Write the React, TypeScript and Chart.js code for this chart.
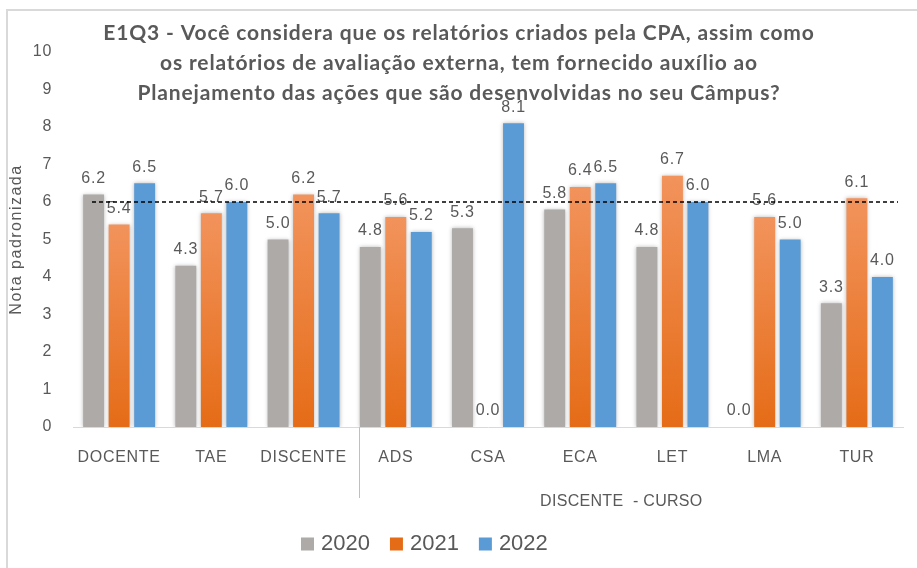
import React, { useEffect, useRef } from "react";
import { Chart, registerables } from "chart.js";

Chart.register(...registerables);

const categories = ["DOCENTE", "TAE", "DISCENTE", "ADS", "CSA", "ECA", "LET", "LMA", "TUR"];
const seriesNames = ["2020", "2021", "2022"];
const values2020 = [6.2, 4.3, 5.0, 4.8, 5.3, 5.8, 4.8, 0.0, 3.3];
const values2021 = [5.4, 5.7, 6.2, 5.6, 0.0, 6.4, 6.7, 5.6, 6.1];
const values2022 = [6.5, 6.0, 5.7, 5.2, 8.1, 6.5, 6.0, 5.0, 4.0];
const yTicks = [0, 1, 2, 3, 4, 5, 6, 7, 8, 9, 10];
const referenceValue = 6;
const titleLines = [
  "E1Q3 - Você considera que os relatórios criados pela CPA, assim como",
  "os relatórios de avaliação externa, tem fornecido auxílio ao",
  "Planejamento das ações que são desenvolvidas no seu Câmpus?",
];
const yAxisTitle = "Nota padronizada";
const groupLabel = "DISCENTE  - CURSO";

const GRAY = "#ADAAA8";
const ORANGE_TOP = "#F2935C";
const ORANGE_BOTTOM = "#E56C17";
const BLUE = "#5B9BD5";
const TEXT = "#595959";
const FONT = "'Liberation Sans', Arial, sans-serif";
const TITLE_FONT = "Lato, 'Liberation Sans', sans-serif";

const orangeFill = (c: any) => {
  const chart = c.chart;
  const area = chart.chartArea;
  if (!area || typeof c.raw !== "number") return ORANGE_BOTTOM;
  const y = chart.scales.y;
  const top = y.getPixelForValue(c.raw);
  const bottom = y.getPixelForValue(0);
  if (bottom - top < 1) return ORANGE_BOTTOM;
  const g = chart.ctx.createLinearGradient(0, top, 0, bottom);
  g.addColorStop(0, ORANGE_TOP);
  g.addColorStop(1, ORANGE_BOTTOM);
  return g;
};

const setSpacing = (ctx: any, px: number) => {
  if ("letterSpacing" in ctx) ctx.letterSpacing = `${px}px`;
};

const decorPlugin = {
  id: "decor",
  beforeDraw(chart: any) {
    const ctx = chart.ctx;
    setSpacing(ctx, 0.7);
    ctx.save();
    ctx.strokeStyle = "#D9D9D9";
    ctx.lineWidth = 2;
    ctx.strokeRect(7, 10, 2000, 2000);
    ctx.restore();
  },
  beforeDatasetsDraw(chart: any) {
    const ctx = chart.ctx;
    ctx.save();
    ctx.shadowColor = "rgba(0,0,0,0.28)";
    ctx.shadowBlur = 4;
    ctx.shadowOffsetX = 0;
    ctx.shadowOffsetY = 0;
  },
  afterDatasetsDraw(chart: any) {
    const ctx = chart.ctx;
    ctx.restore();
    const area = chart.chartArea;
    const ys = chart.scales.y;
    ctx.save();
    // value labels
    setSpacing(ctx, 0.8);
    ctx.font = `16px ${FONT}`;
    ctx.fillStyle = TEXT;
    ctx.textAlign = "center";
    ctx.textBaseline = "middle";
    chart.data.datasets.forEach((ds: any, di: number) => {
      const meta = chart.getDatasetMeta(di);
      meta.data.forEach((bar: any, i: number) => {
        const v = ds.data[i];
        if (typeof v !== "number") return;
        ctx.fillText(v.toFixed(1), bar.x, bar.y - 16);
      });
    });
    // reference dashed line
    const yRef = ys.getPixelForValue(referenceValue);
    ctx.strokeStyle = "#000000";
    ctx.lineWidth = 1.3;
    ctx.setLineDash([4, 3]);
    ctx.beginPath();
    ctx.moveTo(area.left + 19, yRef);
    ctx.lineTo(area.right - 5, yRef);
    ctx.stroke();
    ctx.setLineDash([]);
    // title
    setSpacing(ctx, 0.85);
    ctx.fillStyle = TEXT;
    ctx.font = `bold 21px ${TITLE_FONT}`;
    ctx.textBaseline = "alphabetic";
    const cx = (area.left + area.right) / 2 - 29;
    titleLines.forEach((t, i) => ctx.fillText(t, cx, 40 + i * 30));
    ctx.restore();
  },
  afterDraw(chart: any) {
    const ctx = chart.ctx;
    const area = chart.chartArea;
    const xs = chart.scales.x;
    ctx.save();
    // y axis title
    setSpacing(ctx, 1.5);
    ctx.fillStyle = TEXT;
    ctx.font = `16px ${FONT}`;
    ctx.textAlign = "center";
    ctx.textBaseline = "middle";
    ctx.translate(17, (area.top + area.bottom) / 2);
    ctx.rotate(-Math.PI / 2);
    ctx.fillText(yAxisTitle, 0, 0);
    ctx.restore();

    ctx.save();
    // separator between group levels
    const cw = xs.getPixelForValue(1) - xs.getPixelForValue(0);
    const sepX = Math.round(xs.getPixelForValue(3) - 0.4 * cw) + 0.5;
    ctx.strokeStyle = "#BFBFBF";
    ctx.lineWidth = 1;
    ctx.beginPath();
    ctx.moveTo(sepX, area.bottom);
    ctx.lineTo(sepX, area.bottom + 71);
    ctx.stroke();
    // group label
    setSpacing(ctx, 0.3);
    ctx.fillStyle = TEXT;
    ctx.font = `16px ${FONT}`;
    ctx.textAlign = "center";
    ctx.textBaseline = "middle";
    const gx = (xs.getPixelForValue(3) + xs.getPixelForValue(8)) / 2 - 5;
    ctx.fillText(groupLabel, gx, area.bottom + 75);
    // legend
    setSpacing(ctx, 0);
    const colors = [GRAY, ORANGE_BOTTOM, BLUE];
    ctx.font = `22px ${FONT}`;
    ctx.textAlign = "left";
    let lx = 301;
    const ly = 544;
    seriesNames.forEach((name, i) => {
      ctx.fillStyle = colors[i];
      ctx.fillRect(lx, ly - 6.5, 13, 13);
      lx += 20;
      ctx.fillStyle = TEXT;
      ctx.fillText(name, lx, ly);
      lx += ctx.measureText(name).width + 20;
    });
    ctx.restore();
  },
};

export default function App() {
  const ref = useRef<HTMLCanvasElement | null>(null);
  useEffect(() => {
    if (!ref.current) return;
    const chart = new Chart(ref.current, {
      type: "bar",
      data: {
        labels: categories,
        datasets: [
          { label: seriesNames[0], data: values2020, backgroundColor: GRAY },
          { label: seriesNames[1], data: values2021, backgroundColor: orangeFill as any },
          { label: seriesNames[2], data: values2022, backgroundColor: BLUE },
        ],
      },
      options: {
        responsive: false,
        animation: false,
        layout: { padding: { top: 52, left: 0, right: 14, bottom: 0 } },
        datasets: { bar: { categoryPercentage: 0.83, barPercentage: 0.82 } },
        plugins: {
          legend: { display: false },
          title: { display: false },
          tooltip: { enabled: false },
        },
        scales: {
          x: {
            grid: { display: false, drawTicks: false },
            border: { display: true, color: "#D9D9D9", width: 1 },
            ticks: { color: TEXT, font: { family: FONT, size: 16 }, padding: 21, maxRotation: 0, autoSkip: false },
            afterFit: (s: any) => { s.height = 141; },
          },
          y: {
            min: 0,
            max: 10,
            afterBuildTicks: (s: any) => { s.ticks = yTicks.map((v) => ({ value: v })); },
            grid: { display: false, drawTicks: false },
            border: { display: false },
            ticks: { color: TEXT, font: { family: FONT, size: 16 }, padding: 21 },
            afterFit: (s: any) => { s.width = 73; },
          },
        },
      },
      plugins: [decorPlugin],
    });
    return () => chart.destroy();
  }, []);
  return (
    <div style={{ position: "absolute", left: 0, top: 0, width: 917, height: 568, background: "#fff" }}>
      <canvas ref={ref} width={917} height={568} style={{ display: "block" }} />
    </div>
  );
}
